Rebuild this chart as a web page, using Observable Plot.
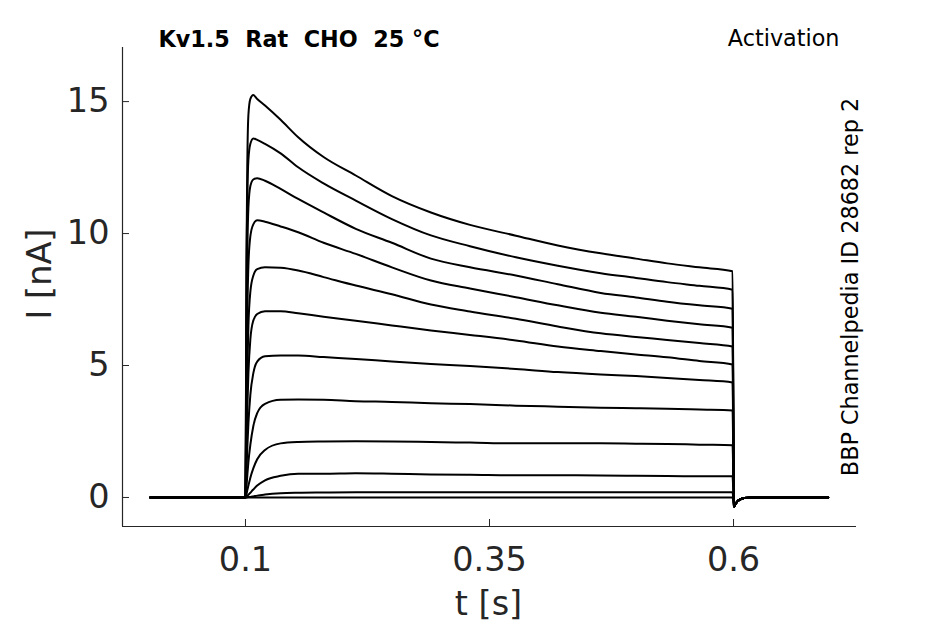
<!DOCTYPE html>
<html>
<head>
<meta charset="utf-8">
<script src="https://cdn.jsdelivr.net/npm/d3@7"></script>
<script src="https://cdn.jsdelivr.net/npm/@observablehq/plot@0.6"></script>
<style>
  html, body { margin: 0; padding: 0; background: white; }
</style>
</head>
<body>
<div id="chart"></div>
<script>
// time points (s) during the depolarising step
const pulseT = [0.1, 0.1005, 0.101, 0.102, 0.103, 0.105, 0.108, 0.112, 0.12, 0.136, 0.154, 0.18, 0.213, 0.25, 0.29, 0.33, 0.377, 0.42, 0.464, 0.5, 0.532, 0.565, 0.599];
// current (nA) for each sweep at those times
const sweep1  = [0, 4, 9, 13, 14.5, 15.1, 15.25, 15.1, 14.85, 14.31, 13.65, 12.9, 12.2, 11.42, 10.8, 10.33, 9.92, 9.55, 9.25, 9.05, 8.87, 8.72, 8.57];
const sweep2  = [0, 3.5, 8, 11.5, 12.8, 13.4, 13.6, 13.55, 13.4, 13.04, 12.51, 11.9, 11.25, 10.55, 9.93, 9.52, 9.10, 8.78, 8.50, 8.32, 8.16, 8.02, 7.87];
const sweep3  = [0, 2.5, 6, 9.5, 11, 11.8, 12.05, 12.1, 12.0, 11.69, 11.31, 10.8, 10.18, 9.65, 9.05, 8.72, 8.41, 8.08, 7.75, 7.58, 7.42, 7.28, 7.15];
const sweep4  = [0, 1.8, 4.2, 7.2, 8.8, 9.9, 10.35, 10.5, 10.45, 10.27, 10.05, 9.65, 9.23, 8.72, 8.22, 7.92, 7.59, 7.28, 7.0, 6.85, 6.70, 6.56, 6.43];
const sweep5  = [0, 1.2, 2.8, 5.0, 6.5, 7.8, 8.4, 8.65, 8.72, 8.70, 8.60, 8.35, 8.03, 7.7, 7.31, 7.05, 6.77, 6.48, 6.22, 6.08, 5.97, 5.85, 5.72];
const sweep6  = [0, 0.8, 1.9, 3.5, 4.7, 6.0, 6.7, 6.95, 7.06, 7.06, 6.98, 6.85, 6.70, 6.52, 6.33, 6.16, 5.95, 5.72, 5.55, 5.42, 5.31, 5.17, 5.04];
const sweep7  = [0, 0.4, 1.0, 2.0, 2.8, 3.9, 4.7, 5.15, 5.35, 5.38, 5.38, 5.32, 5.25, 5.15, 5.06, 4.98, 4.87, 4.75, 4.66, 4.6, 4.53, 4.45, 4.36];
const sweep8  = [0, 0.15, 0.4, 0.9, 1.35, 2.0, 2.7, 3.2, 3.55, 3.70, 3.71, 3.70, 3.65, 3.62, 3.57, 3.54, 3.48, 3.44, 3.40, 3.38, 3.36, 3.33, 3.30];
const sweep9  = [0, 0.05, 0.12, 0.3, 0.45, 0.75, 1.1, 1.45, 1.8, 2.05, 2.1, 2.12, 2.13, 2.12, 2.10, 2.08, 2.05, 2.05, 2.05, 2.04, 2.03, 2.0, 1.98];
const sweep10 = [0, 0.01, 0.03, 0.07, 0.1, 0.18, 0.3, 0.45, 0.65, 0.82, 0.9, 0.9, 0.92, 0.9, 0.87, 0.86, 0.84, 0.84, 0.83, 0.82, 0.81, 0.8, 0.8];
const sweep11 = [0, 0, 0.005, 0.01, 0.015, 0.02, 0.04, 0.07, 0.11, 0.16, 0.18, 0.19, 0.2, 0.2, 0.2, 0.2, 0.2, 0.2, 0.2, 0.2, 0.2, 0.2, 0.2];
const sweep0  = [0, 0, 0, 0, 0, 0, 0, 0, 0, 0, 0, 0, 0, 0, 0, 0, 0, 0, 0, 0, 0, 0, 0];
// holding before the step, and tail after the step
const preT = [0.0025];
const preI = [0];
const tailT = [0.6005, 0.602, 0.604, 0.607, 0.611, 0.62, 0.697];
const tailI = [-0.35, -0.25, -0.15, -0.07, -0.02, 0, 0];

const sweeps = [sweep0, sweep1, sweep2, sweep3, sweep4, sweep5, sweep6, sweep7, sweep8, sweep9, sweep10, sweep11];
const xTicks = [0.1, 0.35, 0.6];
const yTicks = [0, 5, 10, 15];
const xDomain = [-0.026, 0.726];
const yDomain = [-1.1, 17.05];

const rows = [];
sweeps.forEach((s, k) => {
  preT.forEach((t, j) => rows.push({sweep: k, t, i: preI[j]}));
  pulseT.forEach((t, j) => rows.push({sweep: k, t, i: s[j]}));
  tailT.forEach((t, j) => rows.push({sweep: k, t, i: tailI[j]}));
});

const ink = "#262626";
const chart = Plot.plot({
  width: 945,
  height: 624,
  marginLeft: 122,
  marginRight: 89,
  marginTop: 47,
  marginBottom: 98,
  x: {domain: xDomain},
  y: {domain: yDomain},
  style: {fontFamily: "DejaVu Sans", background: "white", color: ink},
  marks: [
    Plot.ruleX([xDomain[0]], {stroke: ink, strokeWidth: 1.2}),
    Plot.ruleY([yDomain[0]], {stroke: ink, strokeWidth: 1.2}),
    Plot.axisX(xTicks, {tickSize: -7, tickFormat: () => "", label: null, stroke: ink}),
    Plot.axisX(xTicks, {tickSize: 0, tickPadding: 21, fontSize: 33.5, label: null, fill: ink, tickFormat: d => String(d)}),
    Plot.axisY(yTicks, {tickSize: -7, tickFormat: () => "", label: null, stroke: ink}),
    Plot.axisY(yTicks, {tickSize: 0, tickPadding: 13, fontSize: 33.5, label: null, fill: ink, tickFormat: d => String(d)}),
    Plot.line(rows, {x: "t", y: "i", z: "sweep", stroke: "black", strokeWidth: 2, curve: "monotone-x"}),
    Plot.text(["Kv1.5  Rat  CHO  25 °C"], {frameAnchor: "top-left", dx: 36, dy: -1, lineAnchor: "bottom", textAnchor: "start", fontSize: 22.3, fontWeight: "bold", fill: "black"}),
    Plot.text(["Activation"], {frameAnchor: "top-right", dx: -17, dy: -2, lineAnchor: "bottom", textAnchor: "end", fontSize: 22.3, fill: "black"}),
    Plot.text(["BBP Channelpedia ID 28682 rep 2"], {frameAnchor: "right", dx: -6, dy: 0, rotate: -90, textAnchor: "middle", fontSize: 22.3, fill: "black"}),
    Plot.text(["I [nA]"], {frameAnchor: "left", dx: -82, dy: -13, rotate: -90, textAnchor: "middle", fontSize: 33.5, fill: ink}),
    Plot.text(["t [s]"], {frameAnchor: "bottom", dx: -1, dy: 88, lineAnchor: "bottom", textAnchor: "middle", fontSize: 33.5, fill: ink})
  ]
});
document.getElementById("chart").appendChild(chart);
</script>
</body>
</html>
